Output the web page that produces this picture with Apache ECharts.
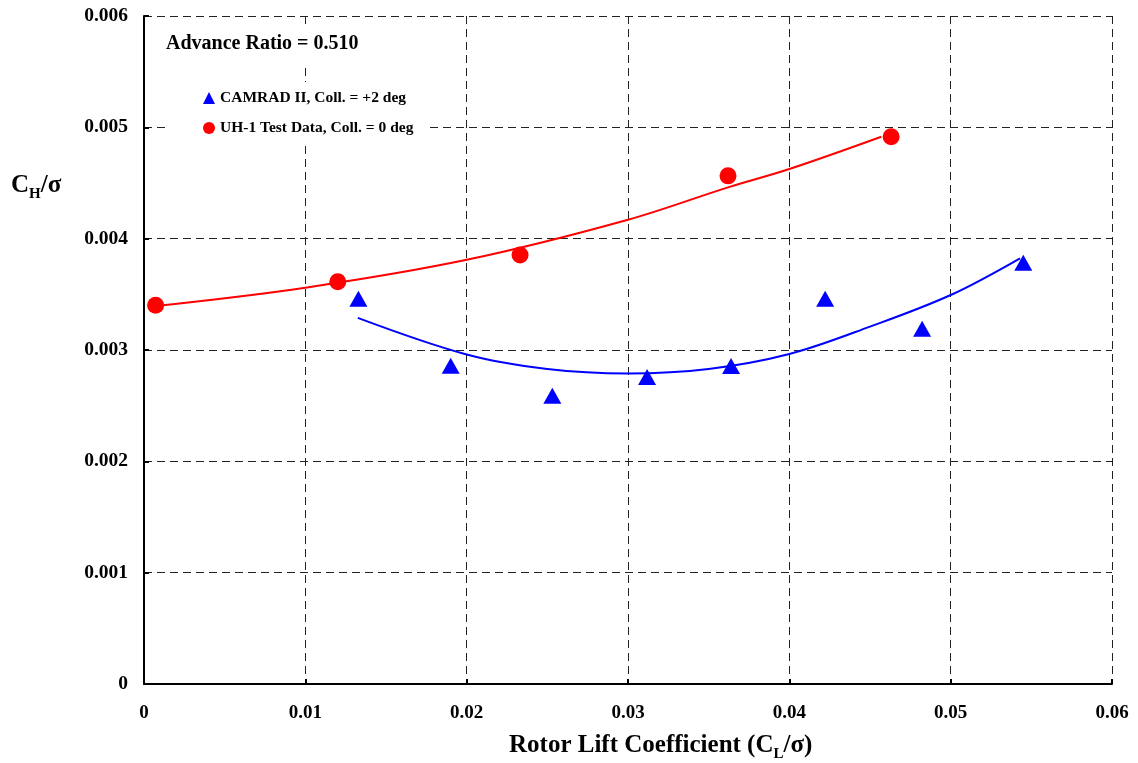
<!DOCTYPE html>
<html>
<head>
<meta charset="utf-8">
<script src="https://cdn.jsdelivr.net/npm/echarts@6/dist/echarts.min.js"></script>
<style>
html,body{margin:0;padding:0;background:#fff;}
#c{width:1138px;height:763px;}
</style>
</head>
<body>
<div id="c"></div>
<script>
// Data
var testX = [0.00072, 0.01201, 0.02331, 0.03620, 0.04631];
var testY = [0.003401, 0.003614, 0.003853, 0.004564, 0.004915];
var camX = [0.01329, 0.01901, 0.02531, 0.03118, 0.03639, 0.04222, 0.04823, 0.05450];
var camY = [0.003461, 0.002859, 0.002590, 0.002758, 0.002857, 0.003460, 0.003190, 0.003783];
// Trend curves
var redFitX = [0.00072, 0.0100, 0.0200, 0.0300, 0.0362, 0.0400, 0.0457];
var redFitY = [0.003395, 0.003560, 0.003810, 0.004170, 0.004461, 0.004626, 0.004916];
var blueFitX = [0.01325, 0.0200, 0.0250, 0.0300, 0.0350, 0.0400, 0.0450, 0.0500, 0.0543];
var blueFitY = [0.003289, 0.002960, 0.002830, 0.002790, 0.002830, 0.002964, 0.003210, 0.003494, 0.003824];
var xTicks = [0, 0.01, 0.02, 0.03, 0.04, 0.05, 0.06];
var yTicks = [0, 0.001, 0.002, 0.003, 0.004, 0.005, 0.006];
var camName = 'CAMRAD II, Coll. = +2 deg';
var testName = 'UH-1 Test Data, Coll. = 0 deg';

function zip(a, b) { return a.map(function (v, i) { return [v, b[i]]; }); }

var FONT = '"Liberation Serif", "Times New Roman", serif';
var chart = echarts.init(document.getElementById('c'));
var gridLine = { show: true, lineStyle: { color: '#222', width: 1, type: [8, 5] } };

chart.setOption({
  animation: false,
  backgroundColor: '#fff',
  grid: { left: 144, right: 26, top: 16, bottom: 79, containLabel: false },
  xAxis: {
    type: 'value', min: xTicks[0], max: xTicks[xTicks.length - 1], interval: 0.01,
    axisLine: { show: true, onZero: false, lineStyle: { color: '#000', width: 2 } },
    axisTick: { show: true, inside: true, length: 5, lineStyle: { color: '#000', width: 2 } },
    splitLine: gridLine,
    axisLabel: {
      margin: 20, color: '#000', fontFamily: FONT, fontWeight: 'bold', fontSize: 19,
      formatter: function (v) { return v === 0 ? '0' : v.toFixed(2); }
    }
  },
  yAxis: {
    type: 'value', min: yTicks[0], max: yTicks[yTicks.length - 1], interval: 0.001,
    axisLine: { show: true, onZero: false, lineStyle: { color: '#000', width: 2 } },
    axisTick: { show: true, inside: true, length: 5, lineStyle: { color: '#000', width: 2 } },
    splitLine: gridLine,
    axisLabel: {
      margin: 16, color: '#000', fontFamily: FONT, fontWeight: 'bold', fontSize: 19.5,
      formatter: function (v) { return v === 0 ? '0' : v.toFixed(3); }
    }
  },
  legend: {
    orient: 'vertical', left: 168, top: 82, padding: [7, 12, 7, 35], itemGap: 12, itemWidth: 12, itemHeight: 12,
    backgroundColor: '#fff',
    data: [{ name: camName, icon: 'triangle' }, { name: testName, icon: 'circle' }],
    textStyle: { fontFamily: FONT, fontWeight: 'bold', fontSize: 15.5, color: '#000', lineHeight: 18 }
  },
  series: [
    { type: 'line', name: 'redfit', data: zip(redFitX, redFitY), smooth: 0.35, showSymbol: false,
      lineStyle: { color: '#ff0000', width: 2 }, z: 2 },
    { type: 'line', name: 'bluefit', data: zip(blueFitX, blueFitY), smooth: 0.35, showSymbol: false,
      lineStyle: { color: '#0000ff', width: 2 }, z: 2 },
    { type: 'scatter', name: testName, data: zip(testX, testY), symbol: 'circle', symbolSize: 17,
      itemStyle: { color: '#ff0000', opacity: 1 }, z: 3 },
    { type: 'scatter', name: camName, data: zip(camX, camY), symbol: 'triangle', symbolSize: [18, 16],
      itemStyle: { color: '#0000ff', opacity: 1 }, z: 3 }
  ],
  graphic: [
    { type: 'text', left: 158, top: 25, z: 10,
      style: { text: 'Advance Ratio = 0.510', font: 'bold 20px ' + FONT, fill: '#000',
               backgroundColor: '#fff', padding: [9, 8, 9, 8] } },
    { type: 'text', left: 11, top: 173,
      style: {
        text: '{m|C}{s|H}{m|/σ}',
        rich: {
          m: { font: 'bold 25px ' + FONT, fill: '#000', verticalAlign: 'bottom', lineHeight: 28 },
          s: { font: 'bold 15px ' + FONT, fill: '#000', verticalAlign: 'bottom', lineHeight: 24, padding: [0, 0, -4, 0] }
        }
      } },
    { type: 'text', left: 509, top: 733,
      style: {
        text: '{m|Rotor Lift Coefficient (C}{s|L}{m|/σ)}',
        rich: {
          m: { font: 'bold 25px ' + FONT, fill: '#000', verticalAlign: 'bottom', lineHeight: 28 },
          s: { font: 'bold 15px ' + FONT, fill: '#000', verticalAlign: 'bottom', lineHeight: 24, padding: [0, 0, -4, 0] }
        }
      } }
  ]
});
</script>
</body>
</html>
